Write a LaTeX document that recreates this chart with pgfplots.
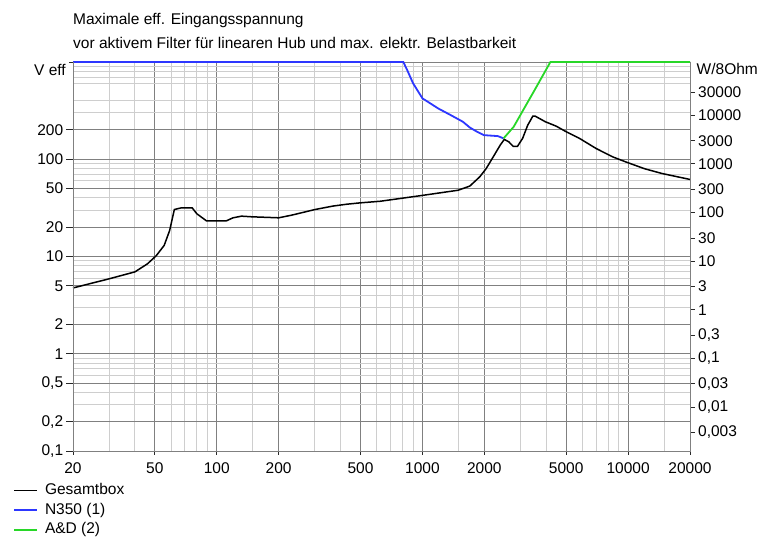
\documentclass[border=0pt]{standalone}
\usepackage{pgfplots}
\pgfplotsset{compat=1.18}
\usepackage{fontspec}
\setmainfont{Liberation Sans}

\definecolor{gridmajor}{RGB}{128,128,128}
\definecolor{gridminor}{RGB}{206,206,206}
\definecolor{tickcol}{RGB}{40,40,40}
\definecolor{nblue}{RGB}{45,55,255}
\definecolor{adgreen}{RGB}{40,215,40}
\newcommand{\lab}{\fontsize{15.5bp}{18bp}\selectfont}

% maximum RMS input voltage (V eff) over frequency (Hz)
\pgfplotstableread{
f     v
20    4.75
30    5.9
40    6.95
46    8.4
50.8  10.2
55.5  13
59    18.5
62.2  30.4
67    31.6
76    31.6
80    27.5
89    23.3
111   23.2
120   25
132   26
148   25.6
200   25
231   26.6
300   30.4
367   33
429   34.5
497   35.6
624   37
1000  42.5
1490  48
1700  53
1900  66
2040  80
2210  106
2390  140
2500  160
2630  151
2760  136
2900  136
3070  164
3250  224
3440  277
3540  277
3960  243
4470  219
5020  191
5800  164
6990  129
8400  106
9730  94
12000 80
14600 71.4
20000 62
}\gesamt

\pgfplotstableread{
f     v
20    1000
807   1000
838   850
901   603
1000  423
1193  333
1370  285
1573  243
1700  212
1850  191
1990  177
2325  173
2480  164
}\nthreefifty

\pgfplotstableread{
f     v
2480  164
2775  215
3510  514
4190  1000
20000 1000
}\ad

\begin{document}
\begin{tikzpicture}
\useasboundingbox (-73bp,-90bp) rectangle (687bp,451bp);

% main plot: grid, curves, frequency axis
\begin{axis}[
  name=main, at={(0,0)}, anchor=south west,
  scale only axis, width=617bp, height=389bp,
  xmode=log, ymode=log,
  xmin=20, xmax=20000, ymin=0.1, ymax=1000,
  xtick={20,50,100,200,500,1000,2000,5000,10000,20000},
  xticklabels={20,50,100,200,500,1000,2000,5000,10000,20000},
  minor xtick={30,40,60,70,80,90,150,300,400,600,700,800,900,1500,3000,4000,6000,7000,8000,9000,15000},
  ytick={0.1,0.2,0.5,1,2,5,10,20,50,100,200,1000},
  yticklabels={},
  minor ytick={0.3,0.4,0.6,0.7,0.8,0.9,3,4,6,7,8,9,30,40,60,70,80,90,300,400,600,700,800,900},
  grid=both,
  major grid style={draw=gridmajor, line width=1bp},
  minor grid style={draw=gridminor, line width=1bp},
  axis line style={draw=gridmajor, line width=1bp},
  tick style={draw=tickcol, line width=1bp},
  tick align=outside, xtick pos=bottom, ytick pos=left,
  major tick length=4bp, minor tick length=0pt,
  xticklabel style={font=\lab, inner sep=0pt, yshift=-7bp},
  clip=false,
  legend cell align=left,
  legend style={at={(-0.0972,-0.083)}, anchor=north west, draw=none, fill=none,
    font=\lab, inner sep=0pt, row sep=5bp,
    nodes={inner sep=0pt, text height=11.5bp, text depth=3bp}},
  legend image code/.code={\draw[#1] (0bp,0bp) -- (23bp,0bp);},
]
\addplot[black, line width=1.5bp] table[x=f, y=v] {\gesamt};
\addlegendentry{\hspace{7bp}Gesamtbox}
\addplot[nblue, line width=1.8bp] table[x=f, y=v] {\nthreefifty};
\addlegendentry{\hspace{7bp}N350 (1)}
\addplot[adgreen, line width=1.8bp] table[x=f, y=v] {\ad};
\addlegendentry{\hspace{7bp}A\&D (2)}
\end{axis}

% left voltage scale
\begin{axis}[
  at={(0,0)}, anchor=south west,
  scale only axis, width=617bp, height=389bp,
  xmode=log, ymode=log,
  xmin=20, xmax=20000, ymin=0.1, ymax=1000,
  hide x axis, axis y line*=left,
  axis line style={draw=gridmajor, line width=1bp},
  ytick={0.1,0.2,0.5,1,2,5,10,20,50,100,200},
  yticklabels={{0,1},{0,2},{0,5},1,2,5,10,20,50,100,200},
  minor ytick={},
  tick style={draw=tickcol, line width=1bp},
  tick align=outside, major tick length=7bp, minor tick length=0pt,
  yticklabel style={font=\lab, inner sep=0pt, anchor=east, xshift=-2.7bp},
]
\end{axis}

% right power scale, W into 8 Ohm (P = V^2/8)
\begin{axis}[
  at={(0,0)}, anchor=south west,
  scale only axis, width=617bp, height=389bp,
  xmode=log, ymode=log,
  xmin=20, xmax=20000, ymin=0.00125, ymax=125000,
  hide x axis, axis y line*=right,
  axis line style={draw=gridmajor, line width=1bp},
  ytick={0.003,0.01,0.03,0.1,0.3,1,3,10,30,100,300,1000,3000,10000,30000},
  yticklabels={{0,003},{0,01},{0,03},{0,1},{0,3},1,3,10,30,100,300,1000,3000,10000,30000},
  minor ytick={},
  tick style={draw=tickcol, line width=1bp},
  tick align=outside, major tick length=5bp, minor tick length=0pt,
  yticklabel style={font=\lab, inner sep=0pt, anchor=west, xshift=3bp},
]
\end{axis}

\node[font=\lab, anchor=base west, inner sep=0pt] at (0bp,426bp) {Maximale eff. Eingangsspannung};
\node[font=\lab, anchor=base west, inner sep=0pt] at (0bp,402.7bp) {vor aktivem Filter für linearen Hub und max. elektr. Belastbarkeit};
\node[font=\lab, anchor=base east, inner sep=0pt] at (-7bp,375bp) {V eff};
\node[font=\lab, anchor=base west, inner sep=0pt] at (623.5bp,376bp) {W/8Ohm};
\end{tikzpicture}
\end{document}
